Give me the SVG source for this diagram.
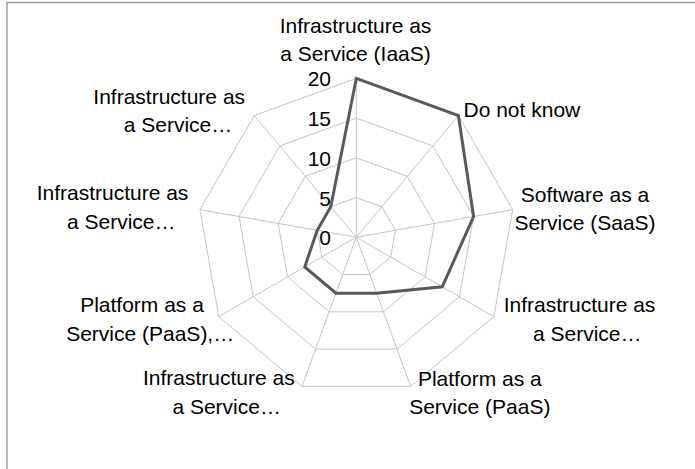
<svg xmlns="http://www.w3.org/2000/svg" width="695" height="469" viewBox="0 0 695 469">
<style>
.lbl{font-family:"Liberation Sans",Arial,sans-serif;font-size:21px;fill:#000;text-anchor:middle}
.num{font-family:"Liberation Sans",Arial,sans-serif;font-size:21px;fill:#000;text-anchor:end}
.grid{fill:none;stroke:#c4c4c4;stroke-width:1}
.data{fill:none;stroke:#595959;stroke-width:3;stroke-linejoin:miter}
</style>
<rect x="0" y="0" width="695" height="469" fill="#fff"/>
<path d="M7 469 V2.5 H695" fill="none" stroke="#9a9a9a" stroke-width="1.4"/>
<g id="grid">
<polygon class="grid" points="356.3,78.4 458.38,115.56 512.69,209.63 493.82,316.6 410.61,386.42 301.99,386.42 218.78,316.6 199.91,209.63 254.22,115.56"/>
<polygon class="grid" points="356.3,118.1 432.86,145.97 473.59,216.52 459.44,296.75 397.03,349.12 315.57,349.12 253.16,296.75 239.01,216.52 279.74,145.97"/>
<polygon class="grid" points="356.3,157.8 407.34,176.38 434.49,223.42 425.06,276.9 383.45,311.81 329.15,311.81 287.54,276.9 278.11,223.42 305.26,176.38"/>
<polygon class="grid" points="356.3,197.5 381.82,206.79 395.4,230.31 390.68,257.05 369.88,274.51 342.72,274.51 321.92,257.05 317.2,230.31 330.78,206.79"/>
<path class="grid" d="M356.3 237.2 L356.3 78.4 M356.3 237.2 L458.38 115.56 M356.3 237.2 L512.69 209.63 M356.3 237.2 L493.82 316.6 M356.3 237.2 L410.61 386.42 M356.3 237.2 L301.99 386.42 M356.3 237.2 L218.78 316.6 M356.3 237.2 L199.91 209.63 M356.3 237.2 L254.22 115.56"/>
</g>
<g id="axis-values">
<text class="num" x="331" y="86.4">20</text>
<text class="num" x="331" y="126.1">15</text>
<text class="num" x="331" y="165.8">10</text>
<text class="num" x="331" y="205.5">5</text>
<text class="num" x="331" y="245.2">0</text>
</g>
<g id="connectors">
<polygon class="data" points="356.3,78.4 458.38,115.56 473.59,216.52 442.25,286.83 376.67,293.16 335.93,293.16 304.73,266.98 317.2,230.31 330.78,206.79"/>
</g>
<g id="label-iaas"><text class="lbl" x="355.5" y="33">Infrastructure as</text><text class="lbl" x="355.5" y="61">a Service (IaaS)</text></g>
<g id="label-dnk"><text class="lbl" x="463.5" y="117" style="text-anchor:start">Do not know</text></g>
<g id="label-saas"><text class="lbl" x="585" y="201.5">Software as a</text><text class="lbl" x="585" y="229.5">Service (SaaS)</text></g>
<g id="label-iaas2"><text class="lbl" x="579.5" y="312">Infrastructure as</text><text class="lbl" x="587.3" y="341">a Service…</text></g>
<g id="label-paas"><text class="lbl" x="479.8" y="385.5">Platform as a</text><text class="lbl" x="479.8" y="414">Service (PaaS)</text></g>
<g id="label-iaas3"><text class="lbl" x="218.8" y="385">Infrastructure as</text><text class="lbl" x="226.7" y="414">a Service…</text></g>
<g id="label-paas2"><text class="lbl" x="142" y="312.3">Platform as a</text><text class="lbl" x="150.2" y="340.5">Service (PaaS),…</text></g>
<g id="label-iaas4"><text class="lbl" x="112.5" y="200">Infrastructure as</text><text class="lbl" x="121.3" y="228.5">a Service…</text></g>
<g id="label-iaas5"><text class="lbl" x="169.2" y="104">Infrastructure as</text><text class="lbl" x="178" y="131.5">a Service…</text></g>
</svg>
